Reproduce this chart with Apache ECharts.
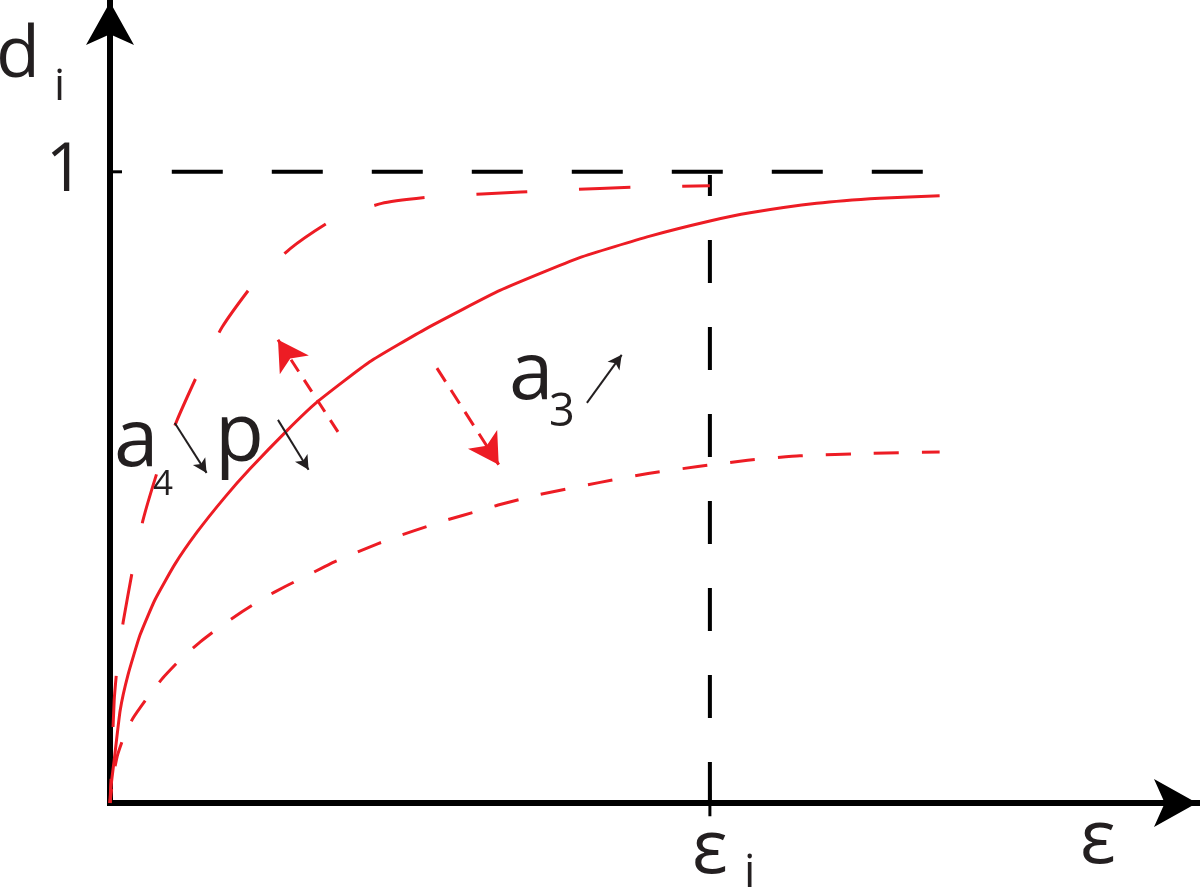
<!DOCTYPE html>
<html>
<head>
<meta charset="utf-8">
<script src="https://cdn.jsdelivr.net/npm/echarts@6/dist/echarts.min.js"></script>
<style>html,body{margin:0;padding:0;background:#fff;}#c{width:1200px;height:889px;}</style>
</head>
<body>
<div id="c"></div>
<script>
// x in units of eps_i, y in units of d_i (1 = full damage)
const solidCurve = [[0,0],[0.002,0.029],[0.007,0.068],[0.017,0.147],[0.030,0.203],[0.050,0.266],[0.075,0.322],[0.108,0.378],[0.145,0.429],[0.192,0.485],[0.233,0.529],[0.295,0.590],[0.345,0.635],[0.433,0.699],[0.528,0.752],[0.650,0.812],[0.783,0.864],[0.900,0.898],[1.000,0.922],[1.067,0.935],[1.178,0.950],[1.283,0.958],[1.383,0.962]];
const longDashCurve = [[0,0],[0.003,0.068],[0.007,0.163],[0.013,0.227],[0.022,0.287],[0.037,0.366],[0.055,0.448],[0.080,0.528],[0.112,0.607],[0.147,0.681],[0.187,0.754],[0.238,0.821],[0.300,0.878],[0.368,0.922],[0.453,0.950],[0.533,0.960],[0.620,0.965],[0.750,0.971],[0.883,0.976],[1.000,0.978]];
const shortDashCurve = [[0,0],[0.005,0.040],[0.012,0.074],[0.022,0.102],[0.038,0.134],[0.063,0.168],[0.088,0.198],[0.120,0.230],[0.150,0.255],[0.183,0.279],[0.220,0.303],[0.255,0.324],[0.292,0.343],[0.330,0.361],[0.367,0.379],[0.408,0.396],[0.447,0.411],[0.487,0.425],[0.528,0.438],[0.567,0.450],[0.608,0.461],[0.647,0.472],[0.717,0.489],[0.817,0.508],[0.897,0.522],[0.980,0.533],[1.063,0.543],[1.150,0.550],[1.267,0.554],[1.383,0.556]];
const guideH = [[0.103,1],[1.362,1]];
const guideV = [[1,0.995],[1,0]];
const tickY = [[-0.022,1],[0.020,1]];
const tickX = [[1,0.021],[1,-0.021]];
const yTickLabels = {1:'1'};
const xTickLabels = {1:'ε'};

const RED = '#ed1c24', BLK = '#231f20';
const FONT = '"Open Sans", "Noto Sans", sans-serif';

function txt(s, x, y, size, align) {
  return {type:'text', x:x, y:y, silent:true,
    style:{text:s, fill:BLK, font: size + 'px ' + FONT, textAlign: align || 'left', textVerticalAlign:'middle'}};
}
function arrow(a, b, color, w, size, dash) {
  return [{coord:a, symbol:'none', lineStyle:{color:color, width:w, type:dash}},
          {coord:b, symbol:'arrow', symbolSize:size}];
}

const chart = echarts.init(document.getElementById('c'), null, {renderer:'canvas'});
chart.setOption({
  animation:false,
  backgroundColor:'#fff',
  grid:{left:110, right:3, top:2, bottom:86, containLabel:false, outerBoundsMode:'none'},
  xAxis:{type:'value', min:0, max:1.812, interval:1,
    axisLine:{symbol:['none','arrow'], symbolSize:[36,43], lineStyle:{color:'#000', width:6, cap:'square'}},
    axisTick:{show:false}, splitLine:{show:false},
    axisLabel:{margin:11, fontSize:75, fontFamily:FONT, color:BLK,
      formatter:v => xTickLabels[v] || '', showMaxLabel:false}},
  yAxis:{type:'value', min:0, max:1.269, interval:1,
    axisLine:{symbol:['none','arrow'], symbolSize:[36,43], lineStyle:{color:'#000', width:6, cap:'square'}},
    axisTick:{show:false}, splitLine:{show:false},
    axisLabel:{margin:26, fontSize:67, fontFamily:FONT, color:BLK,
      formatter:v => yTickLabels[v] || '', showMaxLabel:false}},
  series:[
    {type:'line', data:guideH, symbol:'none', silent:true, lineStyle:{color:'#000', width:4, type:[51,49]}},
    {type:'line', data:guideV, symbol:'none', silent:true, lineStyle:{color:'#000', width:4, type:[43,44], dashOffset:22}},
    {type:'line', data:tickY, symbol:'none', silent:true, clip:false, lineStyle:{color:'#000', width:3}},
    {type:'line', data:tickX, symbol:'none', silent:true, clip:false, lineStyle:{color:'#000', width:3}},
    {type:'line', data:solidCurve, symbol:'none', smooth:0.15, silent:true, lineStyle:{color:RED, width:3, join:'round'}},
    {type:'line', data:longDashCurve, symbol:'none', smooth:0.15, silent:true, lineStyle:{color:RED, width:3, type:[51,52], dashOffset:27, join:'round'}},
    {type:'line', data:shortDashCurve, symbol:'none', smooth:0.15, silent:true, lineStyle:{color:RED, width:3, type:[25,23], dashOffset:11, join:'round'}},
    {type:'line', data:[], silent:true,
      markLine:{silent:true, animation:false, label:{show:false}, emphasis:{disabled:true},
        data:[
          arrow([0.380,0.588],[0.280,0.734], RED, 3, [26,30], [14,10]),
          arrow([0.545,0.689],[0.648,0.536], RED, 3, [26,30], [16,10]),
          arrow([0.108,0.602],[0.161,0.523], BLK, 2, [11,14], 'solid'),
          arrow([0.280,0.607],[0.331,0.528], BLK, 2, [11,14], 'solid'),
          arrow([0.795,0.634],[0.853,0.710], BLK, 2, [11,14], 'solid')
        ]}}
  ],
  graphic:[
    txt('d', -4, 56, 72),
    txt('i', 54, 87, 44),
    txt('a', 114, 443, 80),
    txt('4', 153, 485, 35),
    txt('p', 215, 438, 80),
    txt('a', 509, 376, 80),
    txt('3', 549, 413, 45),
    txt('i', 744, 874, 45),
    txt('ε', 1098, 842, 75, 'center')
  ]
});
</script>
</body>
</html>
